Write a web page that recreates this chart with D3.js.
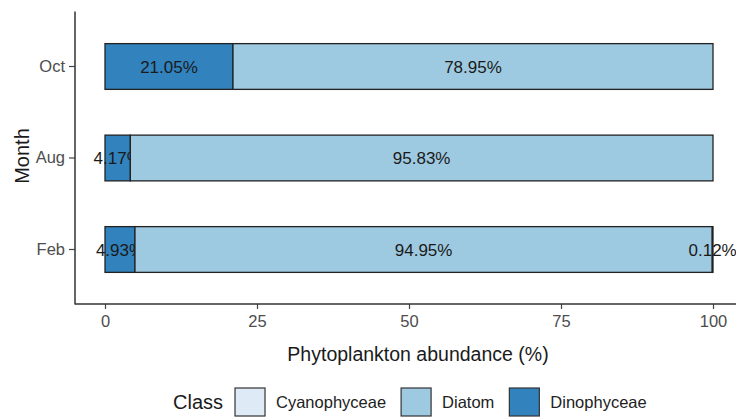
<!DOCTYPE html>
<html lang="en">
    <head>
        <meta charset="utf-8">
        <title>Phytoplankton abundance by month</title>
        <script type="text/javascript" src="https://d3js.org/d3.v7.min.js"></script>
        <style>
            body { margin: 0; background: #fff; }
            text { font-family: "Liberation Sans", Arial, sans-serif; }
        </style>
    </head>
    <body>
        <script type="text/javascript">

            // data
            var months = ["Feb", "Aug", "Oct"];
            var classes = ["Cyanophyceae", "Diatom", "Dinophyceae"];
            var cyanophyceae = [0.12, 0, 0];
            var diatom = [94.95, 95.83, 78.95];
            var dinophyceae = [4.93, 4.17, 21.05];
            var xTicks = [0, 25, 50, 75, 100];

            var w = 736;
            var h = 417;

            var colors = { "Cyanophyceae": "#deebf7", "Diatom": "#9ecae1", "Dinophyceae": "#3182bd" };

            var rows = months.map(function(m, i) {
                return { month: m, Cyanophyceae: cyanophyceae[i], Diatom: diatom[i], Dinophyceae: dinophyceae[i] };
            });

            // Dinophyceae sits at the left, Cyanophyceae at the right
            var stack = d3.stack().keys(["Dinophyceae", "Diatom", "Cyanophyceae"]);
            var series = stack(rows);

            var xScale = d3.scaleLinear()
                           .domain([-5, 105])
                           .range([74.6, 743.4]);

            var yScale = d3.scaleBand()
                           .domain(months.slice().reverse())
                           .range([11.6, 304.4])
                           .paddingInner(0.5)
                           .paddingOuter(0.35);

            var svg = d3.select("body")
                        .append("svg")
                        .attr("width", w)
                        .attr("height", h);

            // bars
            var groups = svg.selectAll("g.layer")
                .data(series)
                .enter()
                .append("g")
                .attr("class", "layer")
                .attr("fill", function(d) { return colors[d.key]; });

            groups.selectAll("rect")
                .data(function(d) { return d; })
                .enter()
                .append("rect")
                .attr("x", function(d) { return xScale(d[0]); })
                .attr("y", function(d) { return yScale(d.data.month); })
                .attr("width", function(d) { return xScale(d[1]) - xScale(d[0]); })
                .attr("height", yScale.bandwidth())
                .attr("stroke", "#222")
                .attr("stroke-width", 1.3)
                .style("display", function(d) { return d[1] - d[0] > 0 ? null : "none"; });

            // percentage labels in the middle of each piece
            groups.selectAll("text")
                .data(function(d) { return d; })
                .enter()
                .append("text")
                .filter(function(d) { return d[1] - d[0] > 0; })
                .attr("x", function(d) { return xScale((d[0] + d[1]) / 2); })
                .attr("y", function(d) { return yScale(d.data.month) + yScale.bandwidth() / 2; })
                .attr("dy", "0.36em")
                .attr("text-anchor", "middle")
                .style("font-size", "17px")
                .style("fill", "#1a1a1a")
                .text(function(d) { return (d[1] - d[0]).toFixed(2) + "%"; });

            // axes
            var xAxis = d3.axisBottom(xScale)
                          .tickValues(xTicks)
                          .tickSize(5)
                          .tickPadding(6);

            var yAxis = d3.axisLeft(yScale)
                          .tickSize(6)
                          .tickPadding(4);

            var gx = svg.append("g")
                .attr("transform", "translate(0,304)")
                .call(xAxis);

            var gy = svg.append("g")
                .attr("transform", "translate(75,0)")
                .call(yAxis);

            [gx, gy].forEach(function(g) {
                g.select(".domain").remove();
                g.selectAll(".tick line").attr("stroke", "#444").attr("stroke-width", 1.2);
                g.selectAll(".tick text")
                    .style("font-size", "16.5px")
                    .attr("fill", "#4d4d4d");
            });

            // axis lines
            svg.append("line")
                .attr("x1", 75).attr("x2", 75)
                .attr("y1", 11.6).attr("y2", 304.4)
                .attr("stroke", "#333").attr("stroke-width", 1.5);

            svg.append("line")
                .attr("x1", 75).attr("x2", w)
                .attr("y1", 304).attr("y2", 304)
                .attr("stroke", "#333").attr("stroke-width", 1.5);

            // axis titles
            svg.append("text")
                .attr("x", xScale(50) + 9)
                .attr("y", 361)
                .attr("text-anchor", "middle")
                .style("font-size", "19.5px")
                .style("fill", "#1a1a1a")
                .text("Phytoplankton abundance (%)");

            svg.append("text")
                .attr("transform", "translate(29," + 156 + ") rotate(-90)")
                .attr("text-anchor", "middle")
                .style("font-size", "20px")
                .style("fill", "#1a1a1a")
                .text("Month");

            // legend
            var legend = svg.append("g").attr("transform", "translate(173,402)");
            var lx = 0;

            var title = legend.append("text")
                .attr("x", lx)
                .attr("dy", "0.36em")
                .style("font-size", "20px")
                .style("fill", "#1a1a1a")
                .text("Class");
            lx += title.node().getComputedTextLength() + 12;

            classes.forEach(function(c) {
                legend.append("rect")
                    .attr("x", lx)
                    .attr("y", -14)
                    .attr("width", 30)
                    .attr("height", 28)
                    .attr("fill", colors[c])
                    .attr("stroke", "#333")
                    .attr("stroke-width", 1.2);
                lx += 30 + 11;
                var t = legend.append("text")
                    .attr("x", lx)
                    .attr("dy", "0.36em")
                    .style("font-size", "16.5px")
                    .style("fill", "#222")
                    .text(c);
                lx += t.node().getComputedTextLength() + 15;
            });

        </script>
    </body>
</html>
